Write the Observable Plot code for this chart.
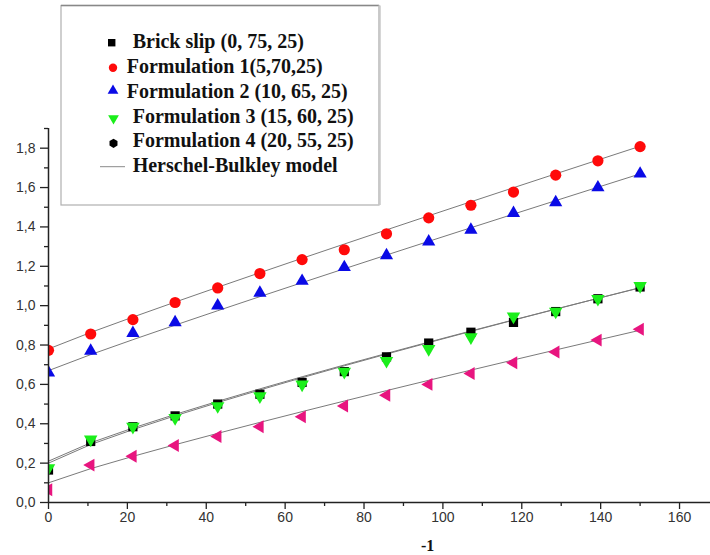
<!DOCTYPE html>
<html>
<head>
<meta charset="utf-8">
<script src="https://cdn.jsdelivr.net/npm/d3@7"></script>
<script src="https://cdn.jsdelivr.net/npm/@observablehq/plot@0.6"></script>
<style>
  html, body { margin: 0; padding: 0; background: white; }
  #chart { width: 710px; height: 555px; }
</style>
</head>
<body>
<div id="chart"></div>
<script>
// Shear rate values (x)
const shearRate = [0, 10.7, 21.4, 32.1, 42.9, 53.6, 64.3, 75, 85.7, 96.4, 107.1, 117.9, 128.6, 139.3, 150];
// Measured series
const brickSlip = [0.165, 0.31, 0.385, 0.44, 0.50, 0.55, 0.61, 0.665, 0.74, 0.81, 0.865, 0.915, 0.97, 1.035, 1.095];
const form1 = [0.773, 0.856, 0.929, 1.016, 1.09, 1.163, 1.234, 1.284, 1.365, 1.446, 1.51, 1.577, 1.663, 1.736, 1.808];
const form2 = [0.66, 0.77, 0.86, 0.915, 1.0, 1.065, 1.125, 1.195, 1.255, 1.325, 1.385, 1.47, 1.525, 1.60, 1.67];
const form3 = [0.175, 0.32, 0.385, 0.43, 0.49, 0.54, 0.60, 0.665, 0.72, 0.78, 0.84, 0.945, 0.97, 1.035, 1.10];
const form4 = [0.065, 0.19, 0.235, 0.29, 0.335, 0.385, 0.435, 0.49, 0.545, 0.60, 0.655, 0.71, 0.765, 0.825, 0.88];

// Herschel-Bulkley fit parameters per series (tau0, K, n)
const hbTau0 = [0.21, 0.78, 0.67, 0.20, 0.10];
const hbK = [0.01245, 0.00882, 0.00856, 0.0126, 0.00853];
const hbN = [0.85, 0.95, 0.95, 0.85, 0.90];

// Labels
const seriesNames = ["Brick slip (0, 75, 25)", "Formulation 1(5,70,25)", "Formulation 2 (10, 65, 25)", "Formulation 3 (15, 60, 25)", "Formulation 4 (20, 55, 25)"];
const modelName = "Herschel-Bulkley model";
const xTicks = [0, 20, 40, 60, 80, 100, 120, 140, 160];
const xMinor = [10, 30, 50, 70, 90, 110, 130, 150];
const yTicks = [0, 0.2, 0.4, 0.6, 0.8, 1.0, 1.2, 1.4, 1.6, 1.8];
const yMinor = [0.1, 0.3, 0.5, 0.7, 0.9, 1.1, 1.3, 1.5, 1.7, 1.9];

const seriesValues = [brickSlip, form1, form2, form3, form4];
const pts = seriesValues.map(vals => shearRate.map((x, i) => ({x, y: vals[i]})));
const fits = hbTau0.map((t0, s) => shearRate.map(x => ({x, y: t0 + hbK[s] * Math.pow(x, hbN[s])})));

const axisColor = "#222";
const fmt = d => d.toFixed(1).replace(".", ",");

const chart = Plot.plot({
  width: 710,
  height: 555,
  marginLeft: 48,
  marginRight: 0,
  marginTop: 128,
  marginBottom: 53,
  x: {domain: [0, 167.85]},
  y: {domain: [0, 1.9]},
  style: {background: "white", fontFamily: "'Liberation Sans', Arial, sans-serif", fontSize: "14px", color: axisColor},
  marks: [
    Plot.axisX({ticks: xTicks, tickSize: 7, tickPadding: 3, tickFormat: d => String(d), label: null, stroke: axisColor, strokeWidth: 1.3, fontSize: 14, fill: "#333"}),
    Plot.axisX({ticks: xMinor, tickSize: 4, tickFormat: () => "", label: null, stroke: axisColor, strokeWidth: 1.3}),
    Plot.axisY({ticks: yTicks, tickSize: 8, tickPadding: 5, tickFormat: fmt, label: null, stroke: axisColor, strokeWidth: 1.3, fontSize: 14, fill: "#333"}),
    Plot.axisY({ticks: yMinor, tickSize: 4, tickFormat: () => "", label: null, stroke: axisColor, strokeWidth: 1.3}),
    ...fits.map(f => Plot.line(f, {x: "x", y: "y", stroke: "#7a7a7a", strokeWidth: 1})),
    Plot.dot(pts[0], {x: "x", y: "y", symbol: "square", r: 5.2, fill: "#000", stroke: "none", clip: true}),
    Plot.dot(pts[1], {x: "x", y: "y", symbol: "circle", r: 5.6, fill: "#ff0a0a", stroke: "none", clip: true}),
    Plot.dot(pts[2], {x: "x", y: "y", symbol: "triangle", r: 4.9, fill: "#0a0ae6", stroke: "none", clip: true}),
    Plot.dot(pts[3], {x: "x", y: "y", symbol: "triangle", rotate: 180, r: 5.0, fill: "#1aee1a", stroke: "none", clip: true}),
    Plot.dot(pts[4], {x: "x", y: "y", symbol: "triangle", rotate: -90, r: 4.8, fill: "#e8157f", stroke: "none", clip: true}),
    Plot.ruleY([0], {stroke: axisColor, strokeWidth: 1.5}),
    Plot.ruleX([0], {stroke: axisColor, strokeWidth: 1.5})
  ]
});

document.getElementById("chart").appendChild(chart);

// Legend box and x-axis unit fragment drawn on top of the SVG
const svg = d3.select(chart);
const lg = svg.append("g").attr("text-anchor", "start");
lg.append("rect").attr("x", 61).attr("y", 5.5).attr("width", 318).attr("height", 199.5)
  .attr("fill", "white").attr("stroke", "#b0b0b0").attr("stroke-width", 1.2);
lg.append("line").attr("x1", 61).attr("x2", 379).attr("y1", 5.5).attr("y2", 5.5).attr("stroke", "#888").attr("stroke-width", 1.3);
lg.append("line").attr("x1", 379.5).attr("x2", 379.5).attr("y1", 5.5).attr("y2", 205).attr("stroke", "#c8c8c8").attr("stroke-width", 2.5);

const sym = (type, r) => d3.symbol(type, Math.PI * r * r)();
const markerY = [42.7, 67.7, 90.7, 118.3, 143.3, 166.7];
const textX = [132.7, 126.7, 126.7, 132.7, 132.7, 132.7];
const baseY = [47.7, 72.7, 97.7, 122.7, 146.7, 171.7];

lg.append("path").attr("d", sym(d3.symbolSquare, 4.2)).attr("transform", `translate(111.7,${markerY[0]})`).attr("fill", "#000");
lg.append("path").attr("d", sym(d3.symbolCircle, 4.2)).attr("transform", `translate(113,${markerY[1]})`).attr("fill", "#ff0a0a");
lg.append("path").attr("d", sym(d3.symbolTriangle, 4.0)).attr("transform", `translate(113,${markerY[2]})`).attr("fill", "#0a0ae6");
lg.append("path").attr("d", sym(d3.symbolTriangle, 4.0)).attr("transform", `translate(113.5,${markerY[3]}) rotate(180)`).attr("fill", "#1aee1a");
// hexagon marker
{
  const r = 4.6, cx = 113.5, cy = markerY[4];
  const hex = d3.range(6).map(i => { const a = Math.PI / 3 * i + Math.PI / 6; return [cx + r * Math.cos(a), cy + r * Math.sin(a)]; });
  lg.append("polygon").attr("points", hex.map(p => p.join(",")).join(" ")).attr("fill", "#000");
}
lg.append("line").attr("x1", 100).attr("x2", 125).attr("y1", markerY[5]).attr("y2", markerY[5]).attr("stroke", "#8a8a8a").attr("stroke-width", 1);

const labels = [...seriesNames, modelName];
labels.forEach((t, i) => {
  lg.append("text").attr("x", textX[i]).attr("y", baseY[i]).text(t)
    .attr("text-anchor", "start")
    .attr("font-family", "'Liberation Serif', 'Times New Roman', serif")
    .attr("font-weight", "bold").attr("font-size", 20).attr("fill", "#111");
});

svg.append("text").attr("x", 421).attr("y", 551).text("-1")
  .attr("text-anchor", "start")
  .attr("font-family", "'Liberation Serif', 'Times New Roman', serif")
  .attr("font-weight", "bold").attr("font-size", 16).attr("fill", "#111");
</script>
</body>
</html>
